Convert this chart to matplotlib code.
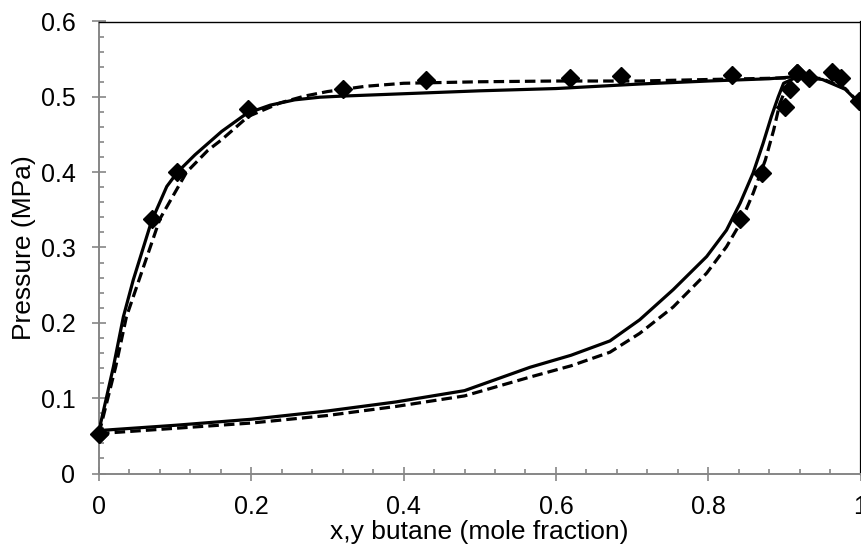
import matplotlib
matplotlib.use("Agg")
import matplotlib.pyplot as plt
from matplotlib.ticker import MultipleLocator, FuncFormatter

plt.rcParams['font.family'] = ['Liberation Sans', 'DejaVu Sans']

# experimental points (diamonds)
exp_x_liq = [0.0, 0.842, 0.870, 0.901, 0.907, 0.916]
exp_p_liq = [0.053, 0.338, 0.399, 0.486, 0.511, 0.531]
exp_y_vap = [0.0, 0.069, 0.103, 0.196, 0.320, 0.430, 0.619, 0.686, 0.831,
             0.916, 0.932, 0.962, 0.975, 0.998]
exp_p_vap = [0.053, 0.338, 0.400, 0.484, 0.511, 0.522, 0.525, 0.528, 0.529,
             0.531, 0.525, 0.533, 0.525, 0.495]

# model 1 (solid)
m1_x_liq = [0.0, 0.1, 0.2, 0.3, 0.39, 0.48, 0.566, 0.62, 0.671, 0.710, 0.754,
            0.798, 0.824, 0.842, 0.859, 0.872, 0.883, 0.892, 0.899, 0.918,
            0.95, 0.98, 1.0]
m1_p_liq = [0.057, 0.064, 0.072, 0.083, 0.095, 0.110, 0.141, 0.157, 0.176, 0.204,
            0.244, 0.288, 0.323, 0.359, 0.399, 0.438, 0.474, 0.500, 0.518, 0.527,
            0.523, 0.510, 0.490]
m1_y_vap = [0.0, 0.019, 0.032, 0.045, 0.069, 0.089, 0.103, 0.126, 0.161, 0.194,
            0.225, 0.257, 0.29, 0.32, 0.5, 0.6, 0.71, 0.8, 0.88, 0.918]
m1_p_vap = [0.057, 0.142, 0.208, 0.257, 0.335, 0.381, 0.400, 0.423, 0.454, 0.478,
            0.489, 0.496, 0.4995, 0.501, 0.508, 0.511, 0.517, 0.521, 0.524, 0.527]

# model 2 (dashed)
m2_x_liq = [0.0, 0.1, 0.2, 0.3, 0.39, 0.48, 0.566, 0.62, 0.671, 0.710, 0.754,
            0.798, 0.824, 0.842, 0.859, 0.875, 0.886, 0.894, 0.903, 0.912, 0.922,
            0.95, 0.98, 1.0]
m2_p_liq = [0.053, 0.060, 0.067, 0.077, 0.089, 0.103, 0.128, 0.143, 0.161, 0.186,
            0.221, 0.266, 0.301, 0.332, 0.372, 0.416, 0.456, 0.491, 0.5135, 0.522,
            0.527, 0.524, 0.511, 0.490]
m2_y_vap = [0.0, 0.022, 0.036, 0.08, 0.115, 0.143, 0.161, 0.196, 0.238, 0.27,
            0.3, 0.35, 0.4, 0.5, 0.6, 0.71, 0.8, 0.9, 0.922]
m2_p_vap = [0.053, 0.142, 0.208, 0.338, 0.400, 0.429, 0.443, 0.474, 0.492, 0.501,
            0.507, 0.514, 0.518, 0.520, 0.521, 0.521, 0.523, 0.525, 0.527]

fig = plt.figure(figsize=(8.62, 5.60), dpi=100)
ax = fig.add_axes([99 / 862, 1 - 473.5 / 560, 761.5 / 862, 452 / 560])

lw = 2.3
dash = (0, (3.3, 1.6))
ax.plot(m1_x_liq, m1_p_liq, color='black', lw=lw, zorder=3)
ax.plot(m1_y_vap, m1_p_vap, color='black', lw=lw, zorder=3)
ax.plot(m2_x_liq, m2_p_liq, color='black', lw=lw, ls=dash, zorder=3)
ax.plot(m2_y_vap, m2_p_vap, color='black', lw=lw, ls=dash, zorder=3)
ax.plot(exp_x_liq, exp_p_liq, 'D', color='black', ms=9.5, zorder=4, clip_on=False)
ax.plot(exp_y_vap, exp_p_vap, 'D', color='black', ms=9.5, zorder=4)

ax.set_xlim(0, 1)
ax.set_ylim(0, 0.6)
ax.xaxis.set_major_locator(MultipleLocator(0.2))
ax.xaxis.set_minor_locator(MultipleLocator(0.04))
ax.yaxis.set_major_locator(MultipleLocator(0.1))
ax.yaxis.set_minor_locator(MultipleLocator(0.02))
fmt = FuncFormatter(lambda v, p: '0' if abs(v) < 1e-9 else ('1' if abs(v - 1) < 1e-9 else f'{v:.1f}'))
ax.xaxis.set_major_formatter(fmt)
ax.yaxis.set_major_formatter(fmt)

gray = '#868686'
for s in ['left', 'bottom']:
    ax.spines[s].set_color(gray)
    ax.spines[s].set_linewidth(1.4)
ax.spines['top'].set_color('black')
ax.spines['top'].set_linewidth(1.0)
ax.spines['right'].set_color('black')
ax.spines['right'].set_linewidth(1.6)

ax.tick_params(which='major', direction='inout', length=10, width=1.2, color=gray,
               labelsize=18)
ax.tick_params(axis='x', which='major', pad=10.5)
ax.tick_params(axis='y', which='major', pad=12)
ax.tick_params(which='minor', direction='in', length=3.6, width=1.2, color=gray)

ax.set_xlabel('x,y butane (mole fraction)', fontsize=19, labelpad=1)
ax.set_ylabel('Pressure (MPa)', fontsize=19, labelpad=3)

fig.savefig('out.png', dpi=100)
